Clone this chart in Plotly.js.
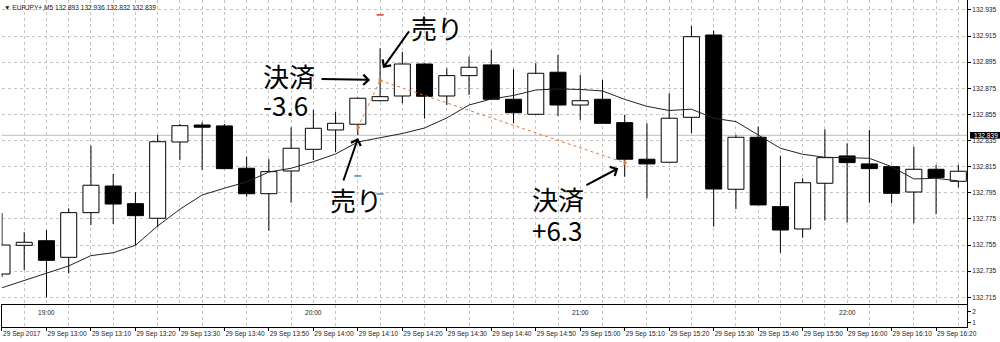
<!DOCTYPE html>
<html>
<head>
<meta charset="utf-8">
<script src="https://cdn.plot.ly/plotly-3.0.1.min.js"></script>
<style>
  html, body { margin: 0; padding: 0; background: #ffffff; }
  #chart { width: 1000px; height: 342px; }
</style>
</head>
<body>
<div id="chart"></div>
<script>
// EURJPY+ M5 candles, 29 Sep 2017
const times = ['12:50','12:55','13:00','13:05','13:10','13:15','13:20','13:25','13:30','13:35',
               '13:40','13:45','13:50','13:55','14:00','14:05','14:10','14:15','14:20','14:25',
               '14:30','14:35','14:40','14:45','14:50','14:55','15:00','15:05','15:10','15:15',
               '15:20','15:25','15:30','15:35','15:40','15:45','15:50','15:55','16:00','16:05',
               '16:10','16:15','16:20','16:25'];

const open  = [132.7328,132.7548,132.7583,132.7456,132.7798,132.8002,132.7867,132.7755,132.8339,132.8469,
               132.8462,132.8138,132.7943,132.8117,132.8283,132.8431,132.8475,132.8655,132.8691,132.8936,
               132.8691,132.8847,132.8929,132.8666,132.8551,132.8873,132.8622,132.8666,132.8487,132.8207,
               132.8184,132.8528,132.9158,132.7977,132.8375,132.7844,132.7673,132.8023,132.8232,132.8171,
               132.8150,132.7956,132.8130,132.8038];
const high  = [132.7795,132.7648,132.7665,132.7831,132.8311,132.8094,132.7954,132.8393,132.8477,132.8490,
               132.8477,132.8227,132.8207,132.8452,132.8584,132.8571,132.8680,132.9057,132.9028,132.8940,
               132.8903,132.8992,132.9044,132.8896,132.8942,132.9005,132.8852,132.8814,132.8546,132.8482,
               132.8712,132.9227,132.9191,132.8393,132.8456,132.8234,132.8061,132.8436,132.8329,132.8431,
               132.8155,132.8303,132.8163,132.8163];
const low   = [132.7305,132.7359,132.7150,132.7334,132.7704,132.7711,132.7550,132.7686,132.8201,132.8125,
               132.8130,132.7920,132.7660,132.7874,132.8201,132.8263,132.8393,132.8650,132.8635,132.8518,
               132.8622,132.8699,132.8660,132.8482,132.8548,132.8538,132.8508,132.8480,132.8073,132.7908,
               132.8180,132.8406,132.7691,132.7826,132.7855,132.7491,132.7606,132.7737,132.7724,132.7874,
               132.7870,132.7717,132.7786,132.7992];
const close = [132.7550,132.7571,132.7433,132.7798,132.8008,132.7864,132.7775,132.8341,132.8464,132.8452,
               132.8135,132.7943,132.8112,132.8291,132.8444,132.8482,132.8674,132.8686,132.8936,132.8689,
               132.8847,132.8911,132.8666,132.8563,132.8865,132.8622,132.8655,132.8482,132.8207,132.8171,
               132.8521,132.9145,132.7979,132.8375,132.7857,132.7665,132.8027,132.8219,132.8181,132.8135,
               132.7946,132.8130,132.8066,132.8115];

// moving average drawn over the candles
const ma    = [132.7223,132.7279,132.7334,132.7390,132.7469,132.7491,132.7548,132.7696,132.7824,132.7933,
               132.7985,132.8033,132.8109,132.8138,132.8188,132.8247,132.8339,132.8370,132.8404,132.8446,
               132.8523,132.8622,132.8668,132.8695,132.8737,132.8745,132.8741,132.8730,132.8665,132.8612,
               132.8580,132.8590,132.8521,132.8495,132.8393,132.8291,132.8245,132.8222,132.8219,132.8214,
               132.8150,132.8056,132.8061,132.8041];

// time-scale labels (one every two bars) and local-hour labels of the lower pane
const dateTickLabels = ['29 Sep 2017','29 Sep 13:00','29 Sep 13:10','29 Sep 13:20','29 Sep 13:30','29 Sep 13:40',
                        '29 Sep 13:50','29 Sep 14:00','29 Sep 14:10','29 Sep 14:20','29 Sep 14:30','29 Sep 14:40',
                        '29 Sep 14:50','29 Sep 15:00','29 Sep 15:10','29 Sep 15:20','29 Sep 15:30','29 Sep 15:40',
                        '29 Sep 15:50','29 Sep 16:00','29 Sep 16:10','29 Sep 16:20'];
const hourLabels = ['19:00','20:00','21:00','22:00'];
const hourAt     = ['13:00','14:00','15:00','16:00'];

// trades: [open time, close time], [open price, close price]
const tradeTimes  = [['14:10','14:15'], ['14:15','15:10']];
const tradePrices = [[132.845, 132.881], [132.881, 132.818]];
// stop / target marks
const stopTimes  = ['14:15'];
const stopPrices = [132.9312];
const tpTimes    = ['14:10','14:15'];
const tpPrices   = [132.8079, 132.7941];

const lastPrice = 132.839;
const header = '\u25BC EURJPY+,M5 132.893 132.936 132.832 132.839';

// ---------------------------------------------------------------
const W = 1000, H = 342;
const px = v => v / W;          // pixel -> paper x
const py = v => 1 - v / H;      // pixel -> paper y
const idx = t => times.indexOf(t);
const xs = times.map((t, i) => i);

// wicks split around the body so the white bodies stay clean
const wickX = [], wickY = [];
for (let i = 0; i < times.length; i++) {
  const top = Math.max(open[i], close[i]), bot = Math.min(open[i], close[i]);
  if (high[i] > top) { wickX.push(i, i, null); wickY.push(top, high[i], null); }
  if (low[i] < bot)  { wickX.push(i, i, null); wickY.push(low[i], bot, null); }
}

const bodyColors = open.map((o, i) => close[i] >= o ? '#ffffff' : '#000000');

const small = { family: 'Liberation Sans, Arial, sans-serif', size: 6.6, color: '#1a1a1a' };
const big = { family: 'Noto Sans CJK JP, sans-serif', size: 26, color: '#000000' };
const gridColor = '#c4c4c4';
const orange = '#E07A3A';

const traces = [
  { type: 'scatter', mode: 'lines', x: wickX, y: wickY, xaxis: 'x', yaxis: 'y',
    line: { color: '#000', width: 1 }, hoverinfo: 'skip', showlegend: false },
  { type: 'bar', x: xs, base: open, y: close.map((c, i) => c - open[i]), xaxis: 'x', yaxis: 'y',
    width: 0.72, marker: { color: bodyColors, line: { color: '#000', width: 1 } },
    hoverinfo: 'skip', showlegend: false },
  { type: 'scatter', mode: 'lines', x: xs, y: ma, xaxis: 'x', yaxis: 'y',
    line: { color: '#222', width: 1 }, hoverinfo: 'skip', showlegend: false }
];

tradeTimes.forEach((tt, k) => {
  traces.push({ type: 'scatter', mode: 'lines+markers', x: tt.map(idx), y: tradePrices[k],
    xaxis: 'x', yaxis: 'y', line: { color: orange, width: 1, dash: 'dot' },
    marker: { symbol: 'triangle-right', size: 5, color: orange },
    hoverinfo: 'skip', showlegend: false });
});
traces.push({ type: 'scatter', mode: 'markers', x: stopTimes.map(idx), y: stopPrices, xaxis: 'x', yaxis: 'y',
  marker: { symbol: 'line-ew', size: 5, line: { color: '#d23a2a', width: 1.5 } }, hoverinfo: 'skip', showlegend: false });
traces.push({ type: 'scatter', mode: 'markers', x: tpTimes.map(idx), y: tpPrices, xaxis: 'x', yaxis: 'y',
  marker: { symbol: 'line-ew', size: 5, line: { color: '#4a88d0', width: 1.5 } }, hoverinfo: 'skip', showlegend: false });

const xDomain = [px(1.5), px(967)];
const xRange = [-0.022, 43.39];
const yRange = [132.7091, 132.9426];
const gridDash = '3px,3px';

const arrow = (tail, tip) => ({
  xref: 'x', yref: 'y', axref: 'x', ayref: 'y', text: '',
  x: tip[0], y: tip[1], ax: tail[0], ay: tail[1],
  showarrow: true, arrowhead: 4, arrowsize: 1, arrowwidth: 2, arrowcolor: '#000', standoff: 0
});
const label = (text, x, y, anchor) => ({
  xref: 'paper', yref: 'paper', x: px(x), y: py(y), text: text, showarrow: false,
  xanchor: anchor || 'left', yanchor: 'middle', font: big, borderpad: 0
});

const annotations = [
  { xref: 'paper', yref: 'paper', x: px(3), y: py(7), text: header, showarrow: false,
    xanchor: 'left', yanchor: 'middle', font: small, borderpad: 0 },
  // trade notes
  arrow([18.35, 132.9197], [17.13, 132.8906]),
  arrow([14.30, 132.8822], [16.55, 132.8814]),
  arrow([15.33, 132.8033], [16.01, 132.8370]),
  arrow([26.21, 132.8002], [27.71, 132.8138]),
  label('売り', 437, 27.5, 'center'),
  label('決済', 262, 75.5),
  label('-3.6', 262, 104),
  label('売り', 329, 199),
  label('決済', 531, 198.5),
  label('+6.3', 531, 229),
  // last price tag
  { xref: 'paper', yref: 'y', x: px(972.5), y: lastPrice, text: lastPrice.toFixed(3), showarrow: false,
    xanchor: 'left', yanchor: 'middle', font: Object.assign({}, small, { color: '#ffffff' }), borderpad: 0 }
];
hourLabels.forEach((h, k) => {
  annotations.push({ xref: 'x2', yref: 'y2', x: idx(hourAt[k]), y: 1.95, text: h, showarrow: false,
    xanchor: 'center', yanchor: 'middle', font: small, borderpad: 0 });
});

const layout = {
  width: W, height: H,
  margin: { l: 0, r: 0, t: 0, b: 0 },
  paper_bgcolor: '#ffffff', plot_bgcolor: '#ffffff',
  showlegend: false,
  barmode: 'overlay',
  font: small,
  xaxis: {
    domain: xDomain, range: xRange, anchor: 'y', fixedrange: true,
    showgrid: true, gridcolor: gridColor, gridwidth: 1, griddash: gridDash,
    tick0: 0, dtick: 1, ticks: '', showticklabels: false, zeroline: false,
    showline: false
  },
  yaxis: {
    domain: [py(305), 1], range: yRange, anchor: 'x', side: 'right', fixedrange: true,
    tick0: 132.715, dtick: 0.02, tickformat: '.3f', tickfont: small,
    ticks: 'outside', ticklen: 3, tickcolor: '#000', tickwidth: 1,
    showgrid: true, gridcolor: gridColor, gridwidth: 1, griddash: gridDash, zeroline: false,
    showline: true, linecolor: '#000', linewidth: 1
  },
  xaxis2: {
    domain: xDomain, range: xRange, anchor: 'y2', matches: 'x', fixedrange: true,
    tickvals: dateTickLabels.map((_, k) => 2 * k), ticktext: dateTickLabels,
    ticks: 'outside', ticklen: 3, tickcolor: '#000', tickwidth: 1, tickangle: 0,
    ticklabelposition: 'outside right', ticklabeloverflow: 'allow', tickfont: small,
    showgrid: false, zeroline: false,
    minor: { tick0: 1, dtick: 2, showgrid: true, gridcolor: gridColor, gridwidth: 1, griddash: gridDash, ticks: '' },
    showline: true, linecolor: '#000', linewidth: 1, mirror: true
  },
  yaxis2: {
    domain: [py(326.7), py(305)], range: [0.636, 2.61], anchor: 'x2', side: 'right', fixedrange: true,
    tickvals: [1, 2], ticktext: ['1', '2'], tickfont: small,
    ticks: 'outside', ticklen: 3, tickcolor: '#000', tickwidth: 1,
    showgrid: false, zeroline: false,
    showline: true, linecolor: '#000', linewidth: 1, mirror: true
  },
  shapes: [
    { type: 'line', xref: 'x domain', yref: 'y', x0: 0, x1: 1, y0: lastPrice, y1: lastPrice,
      line: { color: '#c0c0c0', width: 1 }, layer: 'below' },
    { type: 'rect', xref: 'paper', yref: 'y', x0: px(970), x1: 1,
      y0: lastPrice - 3.3 / 1306, y1: lastPrice + 3.3 / 1306,
      fillcolor: '#000', line: { width: 0 }, layer: 'above' }
  ],
  annotations: annotations
};

Plotly.newPlot('chart', traces, layout, { staticPlot: true, displayModeBar: false });
</script>
</body>
</html>
